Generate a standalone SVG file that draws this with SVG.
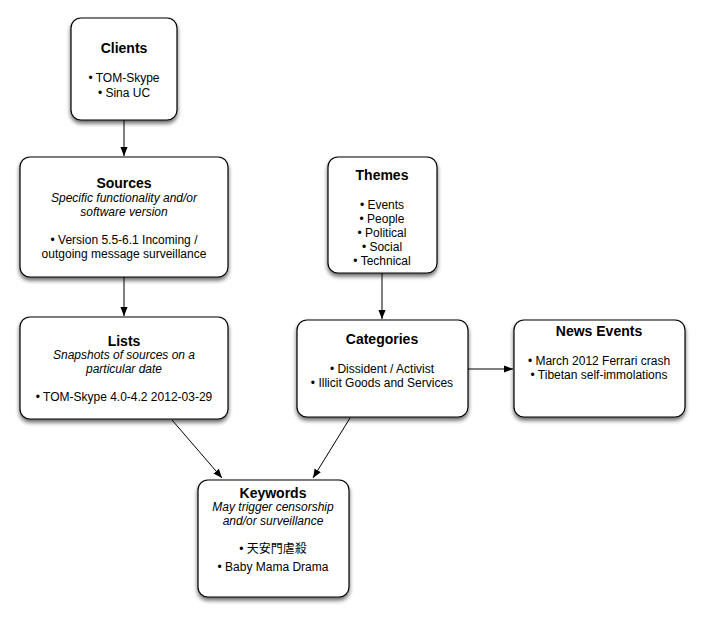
<svg xmlns="http://www.w3.org/2000/svg" width="706" height="617" viewBox="0 0 706 617">
<style>
.box{fill:#fff;stroke:#000;stroke-width:1.2;filter:url(#sh)}
text{font-family:"Liberation Sans",Arial,"Noto Sans CJK TC",sans-serif;font-size:12px;fill:#000;text-anchor:middle}
.t{font-weight:bold;font-size:14px}
.i{font-style:italic}
.c line{stroke:#000;stroke-width:1;marker-end:url(#ah)}
</style>
<defs>
<filter id="sh" x="-10%" y="-10%" width="120%" height="130%">
<feGaussianBlur in="SourceAlpha" stdDeviation="2"/>
<feOffset dx="0" dy="3" result="b"/>
<feComponentTransfer><feFuncA type="linear" slope="0.6"/></feComponentTransfer>
<feMerge><feMergeNode/><feMergeNode in="SourceGraphic"/></feMerge>
</filter>
<marker id="ah" viewBox="0 0 10 10" refX="10" refY="5" markerWidth="9" markerHeight="9" markerUnits="userSpaceOnUse" orient="auto">
<path d="M0,1 L10,5 L0,9 Z" fill="#000"/>
</marker>
</defs>
<rect width="706" height="617" fill="#fff"/>
<g class="c" id="connectors">
<line x1="124" y1="120" x2="124" y2="156"/>
<line x1="124" y1="277" x2="124" y2="316"/>
<line x1="382" y1="273" x2="382" y2="319"/>
<line x1="468" y1="369" x2="513" y2="369"/>
<line x1="172" y1="420" x2="222" y2="478"/>
<line x1="350" y1="418" x2="313" y2="478"/>
</g>
<g id="clients">
<rect class="box" x="71" y="18" width="106" height="102" rx="10"/>
<text class="t" x="124" y="53">Clients</text>
<text x="124" y="82">• TOM-Skype</text>
<text x="124" y="97">• Sina UC</text>
</g>
<g id="sources">
<rect class="box" x="20" y="157" width="208" height="120" rx="10"/>
<text class="t" x="124" y="188">Sources</text>
<text class="i" x="124" y="202">Specific functionality and/or</text>
<text class="i" x="124" y="216">software version</text>
<text x="124" y="244">• Version 5.5-6.1 Incoming /</text>
<text x="124" y="258">outgoing message surveillance</text>
</g>
<g id="themes">
<rect class="box" x="328" y="157" width="109" height="116" rx="10"/>
<text class="t" x="382" y="180">Themes</text>
<text x="382" y="209">• Events</text>
<text x="382" y="223">• People</text>
<text x="382" y="237">• Political</text>
<text x="382" y="251">• Social</text>
<text x="382" y="265">• Technical</text>
</g>
<g id="lists">
<rect class="box" x="20" y="317" width="208" height="102" rx="10"/>
<text class="t" x="124" y="346">Lists</text>
<text class="i" x="124" y="359">Snapshots of sources on a</text>
<text class="i" x="124" y="373">particular date</text>
<text x="124" y="401">• TOM-Skype 4.0-4.2 2012-03-29</text>
</g>
<g id="categories">
<rect class="box" x="297" y="320" width="171" height="97" rx="10"/>
<text class="t" x="382" y="344">Categories</text>
<text x="382" y="373">• Dissident / Activist</text>
<text x="382" y="387">• Illicit Goods and Services</text>
</g>
<g id="news">
<rect class="box" x="514" y="320" width="171" height="97" rx="10"/>
<text class="t" x="599" y="336">News Events</text>
<text x="599" y="365">• March 2012 Ferrari crash</text>
<text x="599" y="379">• Tibetan self-immolations</text>
</g>
<g id="keywords">
<rect class="box" x="198" y="480" width="151" height="117" rx="10"/>
<text class="t" x="273" y="498">Keywords</text>
<text class="i" x="273" y="511">May trigger censorship</text>
<text class="i" x="273" y="525">and/or surveillance</text>
<text x="273" y="553">• 天安門虐殺</text>
<text x="273" y="571">• Baby Mama Drama</text>
</g>
</svg>
